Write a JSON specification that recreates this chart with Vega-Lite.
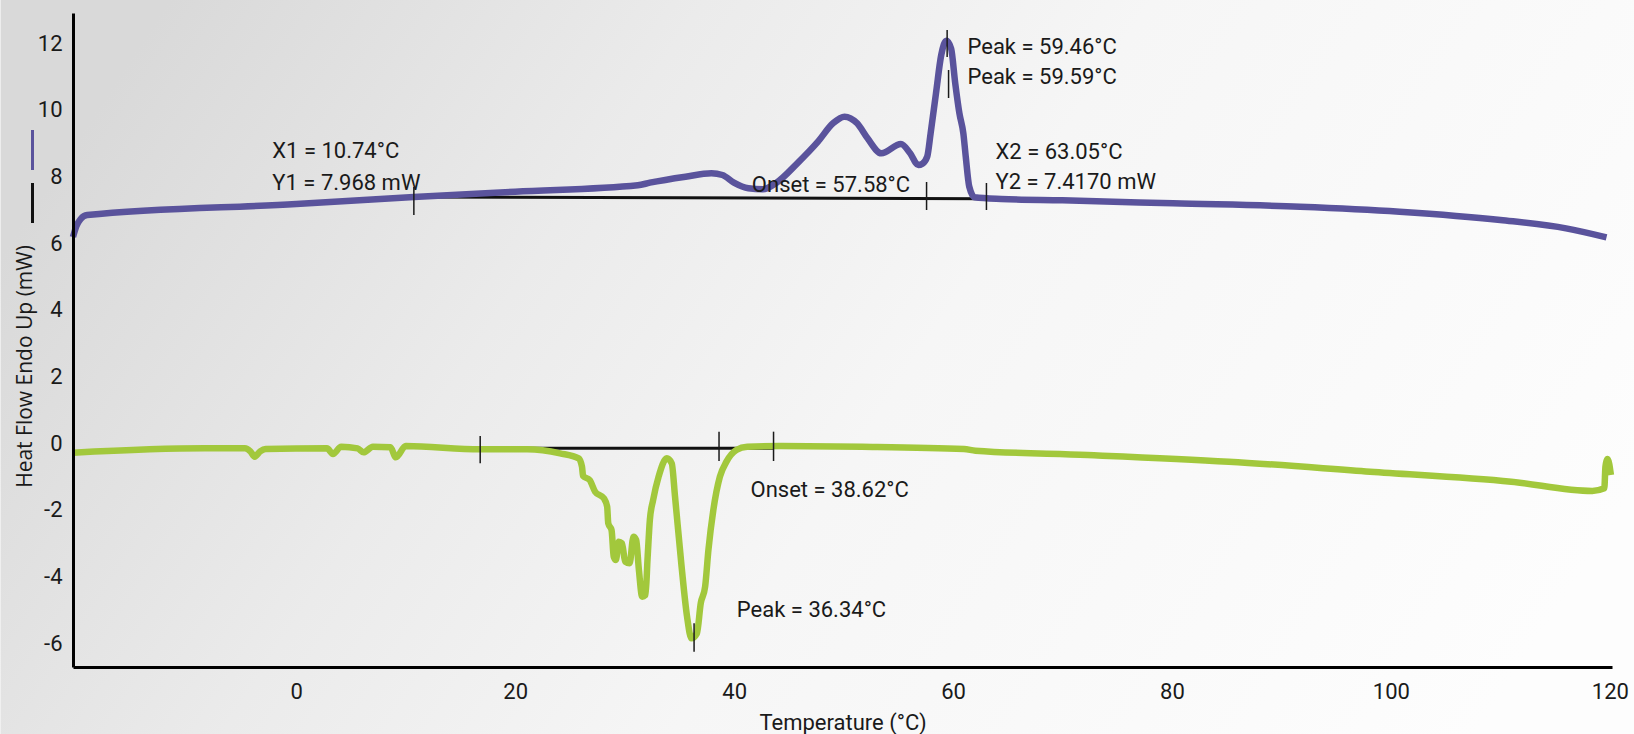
{
  "$schema": "https://vega.github.io/schema/vega-lite/v6.json",
  "width": 1539,
  "height": 654,
  "autosize": {"type": "none"},
  "padding": {"left": 73, "top": 13, "right": 22, "bottom": 67},
  "background": "#f4f4f4",
  "config": {
    "view": {"stroke": null},
    "axisX": {
      "grid": false, "ticks": false, "tickSize": 0,
      "domainColor": "#000000", "domainWidth": 3,
      "labelFont": "Roboto", "labelFontSize": 22, "labelColor": "#1a1a1a",
      "labelPadding": 14, "labelFlush": false,
      "titleFont": "Roboto", "titleFontSize": 22, "titleFontWeight": "normal", "titleColor": "#1a1a1a",
      "titleY": 55, "titleBaseline": "middle"
    },
    "axisY": {
      "grid": false, "ticks": false, "tickSize": 0,
      "domainColor": "#000000", "domainWidth": 3,
      "labelFont": "Roboto", "labelFontSize": 22, "labelColor": "#1a1a1a",
      "labelPadding": 11, "labelFlush": false,
      "titleFont": "Open Sans", "titleFontSize": 21, "titleFontWeight": "normal", "titleColor": "#1a1a1a",
      "titleX": -48, "titleY": 353, "titleAngle": -90, "titleAlign": "center", "titleBaseline": "middle"
    }
  },
  "datasets": {
    "curves": [
      {"series": "heat", "t": -20.4, "hf": 6.18},
      {"series": "heat", "t": -20.1, "hf": 6.5},
      {"series": "heat", "t": -19.7, "hf": 6.72},
      {"series": "heat", "t": -19.1, "hf": 6.84},
      {"series": "heat", "t": 0, "hf": 7.17},
      {"series": "heat", "t": 10.74, "hf": 7.38},
      {"series": "heat", "t": 20, "hf": 7.54},
      {"series": "heat", "t": 31.2, "hf": 7.73},
      {"series": "heat", "t": 32.3, "hf": 7.81},
      {"series": "heat", "t": 35.56, "hf": 7.99},
      {"series": "heat", "t": 37.93, "hf": 8.09},
      {"series": "heat", "t": 38.93, "hf": 8.04},
      {"series": "heat", "t": 39.98, "hf": 7.81},
      {"series": "heat", "t": 41.3, "hf": 7.64},
      {"series": "heat", "t": 42.61, "hf": 7.61},
      {"series": "heat", "t": 43.87, "hf": 7.81},
      {"series": "heat", "t": 45.77, "hf": 8.39},
      {"series": "heat", "t": 47.66, "hf": 9.04},
      {"series": "heat", "t": 49.03, "hf": 9.59},
      {"series": "heat", "t": 50.08, "hf": 9.79},
      {"series": "heat", "t": 51.24, "hf": 9.59},
      {"series": "heat", "t": 52.19, "hf": 9.14},
      {"series": "heat", "t": 53.45, "hf": 8.69},
      {"series": "heat", "t": 55.24, "hf": 8.97},
      {"series": "heat", "t": 56.08, "hf": 8.69},
      {"series": "heat", "t": 56.82, "hf": 8.34},
      {"series": "heat", "t": 57.2, "hf": 8.38},
      {"series": "heat", "t": 57.64, "hf": 8.59},
      {"series": "heat", "t": 57.95, "hf": 9.29},
      {"series": "heat", "t": 58.44, "hf": 10.49},
      {"series": "heat", "t": 58.92, "hf": 11.64},
      {"series": "heat", "t": 59.39, "hf": 12.07},
      {"series": "heat", "t": 59.82, "hf": 11.84},
      {"series": "heat", "t": 60.2, "hf": 10.79},
      {"series": "heat", "t": 60.58, "hf": 9.89},
      {"series": "heat", "t": 60.94, "hf": 9.29},
      {"series": "heat", "t": 61.16, "hf": 8.59},
      {"series": "heat", "t": 61.48, "hf": 7.69},
      {"series": "heat", "t": 61.97, "hf": 7.37},
      {"series": "heat", "t": 64.4, "hf": 7.32},
      {"series": "heat", "t": 70, "hf": 7.28},
      {"series": "heat", "t": 80.1, "hf": 7.19},
      {"series": "heat", "t": 91.7, "hf": 7.09},
      {"series": "heat", "t": 100.8, "hf": 6.94},
      {"series": "heat", "t": 110.0, "hf": 6.69},
      {"series": "heat", "t": 116.0, "hf": 6.44},
      {"series": "heat", "t": 119.7, "hf": 6.17},
      {"series": "cool", "t": -20.4, "hf": -0.29},
      {"series": "cool", "t": -8.4, "hf": -0.16},
      {"series": "cool", "t": -4.7, "hf": -0.16},
      {"series": "cool", "t": -4.2, "hf": -0.25},
      {"series": "cool", "t": -3.8, "hf": -0.41},
      {"series": "cool", "t": -3.3, "hf": -0.25},
      {"series": "cool", "t": -2.8, "hf": -0.18},
      {"series": "cool", "t": 2.8, "hf": -0.16},
      {"series": "cool", "t": 3.35, "hf": -0.33},
      {"series": "cool", "t": 4.1, "hf": -0.11},
      {"series": "cool", "t": 5.6, "hf": -0.16},
      {"series": "cool", "t": 6.15, "hf": -0.28},
      {"series": "cool", "t": 7.0, "hf": -0.11},
      {"series": "cool", "t": 8.6, "hf": -0.13},
      {"series": "cool", "t": 9.1, "hf": -0.43},
      {"series": "cool", "t": 10.0, "hf": -0.09},
      {"series": "cool", "t": 16.8, "hf": -0.19},
      {"series": "cool", "t": 21.1, "hf": -0.19},
      {"series": "cool", "t": 24.1, "hf": -0.31},
      {"series": "cool", "t": 25.8, "hf": -0.46},
      {"series": "cool", "t": 26.1, "hf": -0.71},
      {"series": "cool", "t": 26.2, "hf": -0.99},
      {"series": "cool", "t": 26.8, "hf": -1.11},
      {"series": "cool", "t": 27.3, "hf": -1.46},
      {"series": "cool", "t": 28.1, "hf": -1.66},
      {"series": "cool", "t": 28.4, "hf": -1.91},
      {"series": "cool", "t": 28.5, "hf": -2.41},
      {"series": "cool", "t": 28.8, "hf": -2.61},
      {"series": "cool", "t": 29.0, "hf": -3.41},
      {"series": "cool", "t": 29.2, "hf": -3.51},
      {"series": "cool", "t": 29.45, "hf": -2.96},
      {"series": "cool", "t": 29.75, "hf": -3.01},
      {"series": "cool", "t": 30.05, "hf": -3.56},
      {"series": "cool", "t": 30.45, "hf": -3.61},
      {"series": "cool", "t": 30.8, "hf": -2.81},
      {"series": "cool", "t": 31.05, "hf": -2.91},
      {"series": "cool", "t": 31.3, "hf": -3.81},
      {"series": "cool", "t": 31.6, "hf": -4.61},
      {"series": "cool", "t": 31.9, "hf": -4.56},
      {"series": "cool", "t": 32.1, "hf": -3.41},
      {"series": "cool", "t": 32.3, "hf": -2.31},
      {"series": "cool", "t": 32.6, "hf": -1.71},
      {"series": "cool", "t": 33.1, "hf": -1.01},
      {"series": "cool", "t": 33.85, "hf": -0.46},
      {"series": "cool", "t": 34.3, "hf": -0.61},
      {"series": "cool", "t": 34.6, "hf": -1.61},
      {"series": "cool", "t": 35.2, "hf": -3.71},
      {"series": "cool", "t": 35.7, "hf": -5.21},
      {"series": "cool", "t": 36.1, "hf": -5.86},
      {"series": "cool", "t": 36.6, "hf": -5.71},
      {"series": "cool", "t": 36.95, "hf": -4.81},
      {"series": "cool", "t": 37.35, "hf": -4.31},
      {"series": "cool", "t": 37.65, "hf": -3.21},
      {"series": "cool", "t": 38.1, "hf": -2.01},
      {"series": "cool", "t": 38.7, "hf": -1.01},
      {"series": "cool", "t": 39.3, "hf": -0.56},
      {"series": "cool", "t": 40.2, "hf": -0.21},
      {"series": "cool", "t": 41.2, "hf": -0.11},
      {"series": "cool", "t": 44.2, "hf": -0.09},
      {"series": "cool", "t": 51.7, "hf": -0.11},
      {"series": "cool", "t": 61.0, "hf": -0.18},
      {"series": "cool", "t": 62.05, "hf": -0.23},
      {"series": "cool", "t": 72.3, "hf": -0.36},
      {"series": "cool", "t": 85.2, "hf": -0.56},
      {"series": "cool", "t": 98.1, "hf": -0.86},
      {"series": "cool", "t": 111.0, "hf": -1.16},
      {"series": "cool", "t": 118.4, "hf": -1.44},
      {"series": "cool", "t": 119.5, "hf": -1.36},
      {"series": "cool", "t": 119.6, "hf": -0.71},
      {"series": "cool", "t": 119.8, "hf": -0.48},
      {"series": "cool", "t": 120.1, "hf": -0.96}
    ],
    "baselines": [
      {"series": "heat", "t": 10.74, "hf": 7.38},
      {"series": "heat", "t": 63.05, "hf": 7.33},
      {"series": "cool", "t": 16.8, "hf": -0.16},
      {"series": "cool", "t": 43.6, "hf": -0.16}
    ],
    "ticks": [
      {"t": 10.74, "top": 7.68, "bottom": 6.84},
      {"t": 57.58, "top": 7.83, "bottom": 6.99},
      {"t": 63.05, "top": 7.8, "bottom": 6.99},
      {"t": 59.46, "top": 12.39, "bottom": 11.58},
      {"t": 59.59, "top": 11.19, "bottom": 10.35},
      {"t": 16.8, "top": 0.21, "bottom": -0.61},
      {"t": 38.62, "top": 0.34, "bottom": -0.54},
      {"t": 43.6, "top": 0.34, "bottom": -0.54},
      {"t": 36.34, "top": -5.41, "bottom": -6.26}
    ],
    "labels": [
      {"text": "X1 = 10.74°C", "t": -2.19, "hf": 8.75},
      {"text": "Y1 = 7.968 mW", "t": -2.19, "hf": 7.8},
      {"text": "Peak = 59.46°C", "t": 61.32, "hf": 11.89},
      {"text": "Peak = 59.59°C", "t": 61.32, "hf": 10.99},
      {"text": "Onset = 57.58°C", "t": 41.62, "hf": 7.74},
      {"text": "X2 = 63.05°C", "t": 63.88, "hf": 8.74},
      {"text": "Y2 = 7.4170 mW", "t": 63.88, "hf": 7.83},
      {"text": "Onset = 38.62°C", "t": 41.5, "hf": -1.41},
      {"text": "Peak = 36.34°C", "t": 40.25, "hf": -5.01}
    ],
    "keyHeat": [{"t": -24.1, "top": 9.39, "bottom": 8.19}],
    "keyBase": [{"t": -24.1, "top": 7.8, "bottom": 6.6}]
  },
  "layer": [
    {
      "data": {"values": [{}]},
      "mark": {
        "type": "rect",
        "fill": {
          "gradient": "linear",
          "x1": 0, "y1": 0.35, "x2": 1, "y2": 0.65,
          "stops": [
            {"offset": 0, "color": "#d9d9d9"},
            {"offset": 0.3, "color": "#ebebeb"},
            {"offset": 0.55, "color": "#f6f6f6"},
            {"offset": 1, "color": "#fdfdfd"}
          ]
        }
      },
      "encoding": {
        "x": {"datum": -27, "type": "quantitative", "title": "Temperature (°C)", "scale": {"domain": [-20.4, 120.2], "nice": false, "zero": false}, "axis": {"values": [0, 20, 40, 60, 80, 100, 120], "zindex": 2}},
        "x2": {"datum": 123},
        "y": {"datum": 13.5, "type": "quantitative", "title": "Heat Flow Endo Up (mW)", "scale": {"domain": [-6.72, 12.9], "nice": false, "zero": false}, "axis": {"values": [-6, -4, -2, 0, 2, 4, 6, 8, 10, 12], "zindex": 2, "labelExpr": "'' + datum.value"}},
        "y2": {"datum": -9}
      }
    },
    {
      "data": {"name": "keyHeat"},
      "mark": {"type": "rule", "strokeWidth": 3, "color": "#5a539c"},
      "encoding": {
        "x": {"field": "t", "type": "quantitative", "title": "Temperature (°C)", "scale": {"domain": [-20.4, 120.2], "nice": false, "zero": false}, "axis": {"values": [0, 20, 40, 60, 80, 100, 120], "zindex": 2}},
        "y": {"field": "top", "type": "quantitative", "title": "Heat Flow Endo Up (mW)", "scale": {"domain": [-6.72, 12.9], "nice": false, "zero": false}, "axis": {"values": [-6, -4, -2, 0, 2, 4, 6, 8, 10, 12], "zindex": 2, "labelExpr": "'' + datum.value"}},
        "y2": {"field": "bottom"}
      }
    },
    {
      "data": {"name": "keyBase"},
      "mark": {"type": "rule", "strokeWidth": 3, "color": "#111111"},
      "encoding": {
        "x": {"field": "t", "type": "quantitative", "title": "Temperature (°C)", "scale": {"domain": [-20.4, 120.2], "nice": false, "zero": false}, "axis": {"values": [0, 20, 40, 60, 80, 100, 120], "zindex": 2}},
        "y": {"field": "top", "type": "quantitative", "title": "Heat Flow Endo Up (mW)", "scale": {"domain": [-6.72, 12.9], "nice": false, "zero": false}, "axis": {"values": [-6, -4, -2, 0, 2, 4, 6, 8, 10, 12], "zindex": 2, "labelExpr": "'' + datum.value"}},
        "y2": {"field": "bottom"}
      }
    },
    {
      "data": {"name": "baselines"},
      "mark": {"type": "line", "strokeWidth": 3, "color": "#111111"},
      "encoding": {
        "x": {"field": "t", "type": "quantitative", "title": "Temperature (°C)", "scale": {"domain": [-20.4, 120.2], "nice": false, "zero": false}, "axis": {"values": [0, 20, 40, 60, 80, 100, 120], "zindex": 2}},
        "y": {"field": "hf", "type": "quantitative", "title": "Heat Flow Endo Up (mW)", "scale": {"domain": [-6.72, 12.9], "nice": false, "zero": false}, "axis": {"values": [-6, -4, -2, 0, 2, 4, 6, 8, 10, 12], "zindex": 2, "labelExpr": "'' + datum.value"}},
        "detail": {"field": "series", "type": "nominal"}
      }
    },
    {
      "data": {"name": "curves"},
      "mark": {"type": "line", "strokeWidth": 6.5, "interpolate": "monotone", "strokeCap": "butt", "strokeJoin": "round"},
      "encoding": {
        "x": {"field": "t", "type": "quantitative", "title": "Temperature (°C)", "scale": {"domain": [-20.4, 120.2], "nice": false, "zero": false}, "axis": {"values": [0, 20, 40, 60, 80, 100, 120], "zindex": 2}},
        "y": {"field": "hf", "type": "quantitative", "title": "Heat Flow Endo Up (mW)", "scale": {"domain": [-6.72, 12.9], "nice": false, "zero": false}, "axis": {"values": [-6, -4, -2, 0, 2, 4, 6, 8, 10, 12], "zindex": 2, "labelExpr": "'' + datum.value"}},
        "color": {"field": "series", "type": "nominal", "scale": {"domain": ["heat", "cool"], "range": ["#5a539c", "#a2c83c"]}, "legend": null}
      }
    },
    {
      "data": {"name": "ticks"},
      "mark": {"type": "rule", "strokeWidth": 1.5, "color": "#1a1a1a"},
      "encoding": {
        "x": {"field": "t", "type": "quantitative", "title": "Temperature (°C)", "scale": {"domain": [-20.4, 120.2], "nice": false, "zero": false}, "axis": {"values": [0, 20, 40, 60, 80, 100, 120], "zindex": 2}},
        "y": {"field": "top", "type": "quantitative", "title": "Heat Flow Endo Up (mW)", "scale": {"domain": [-6.72, 12.9], "nice": false, "zero": false}, "axis": {"values": [-6, -4, -2, 0, 2, 4, 6, 8, 10, 12], "zindex": 2, "labelExpr": "'' + datum.value"}},
        "y2": {"field": "bottom"}
      }
    },
    {
      "data": {"name": "labels"},
      "mark": {"type": "text", "font": "Roboto", "fontSize": 22, "align": "left", "baseline": "middle", "color": "#1a1a1a"},
      "encoding": {
        "x": {"field": "t", "type": "quantitative", "title": "Temperature (°C)", "scale": {"domain": [-20.4, 120.2], "nice": false, "zero": false}, "axis": {"values": [0, 20, 40, 60, 80, 100, 120], "zindex": 2}},
        "y": {"field": "hf", "type": "quantitative", "title": "Heat Flow Endo Up (mW)", "scale": {"domain": [-6.72, 12.9], "nice": false, "zero": false}, "axis": {"values": [-6, -4, -2, 0, 2, 4, 6, 8, 10, 12], "zindex": 2, "labelExpr": "'' + datum.value"}},
        "text": {"field": "text", "type": "nominal"}
      }
    }
  ]
}
